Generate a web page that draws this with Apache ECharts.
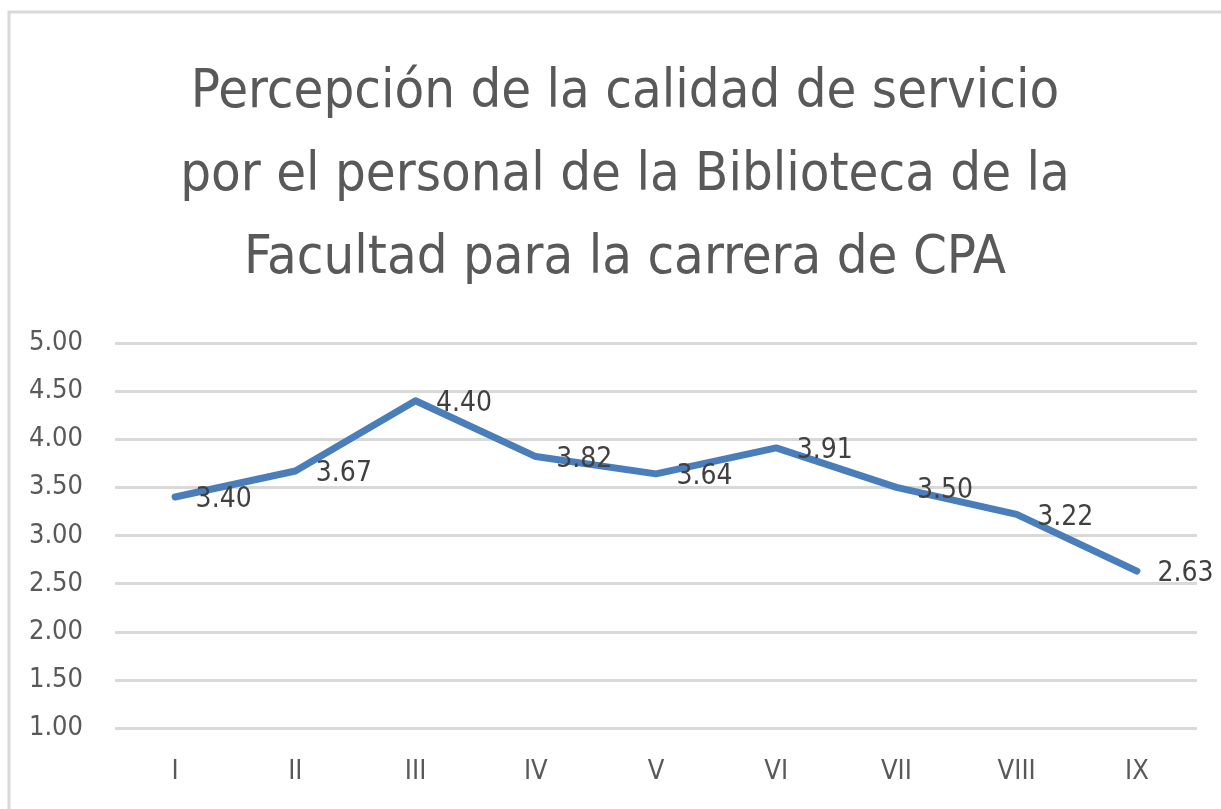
<!DOCTYPE html>
<html>
<head>
    <meta charset="utf-8">
    <title>Percepción de la calidad de servicio</title>
    <script src="https://cdn.jsdelivr.net/npm/echarts@6/dist/echarts.min.js"></script>
    <style>
        html, body { margin: 0; padding: 0; background: #fff; }
        #chart { width: 1221px; height: 809px; }
    </style>
</head>
<body>
<div id="chart"></div>
<script type="text/javascript">
// categorias y valores
var categorias = ['I', 'II', 'III', 'IV', 'V', 'VI', 'VII', 'VIII', 'IX'];
var valores = [3.40, 3.67, 4.40, 3.82, 3.64, 3.91, 3.50, 3.22, 2.63];
var titulo = 'Percepción de la calidad de servicio\npor el personal de la Biblioteca de la\nFacultad para la carrera de CPA';

var fuente = '"DejaVu Sans Condensed", "Noto Sans", sans-serif';
var myChart = echarts.init(document.getElementById('chart'));
var option = {
    animation: false,
    backgroundColor: '#fff',
    graphic: [{
        type: 'rect',
        shape: { x: 9, y: 12, width: 1230, height: 820 },
        style: { fill: 'none', stroke: '#d9d9d9', lineWidth: 3 }
    }],
    title: {
        text: titulo,
        left: 620,
        top: 46,
        textAlign: 'center',
        textStyle: {
            color: '#595959',
            fontFamily: fuente,
            fontWeight: 'normal',
            fontSize: 54,
            lineHeight: 83
        }
    },
    grid: { left: 115, right: 24, top: 343, bottom: 81 },
    xAxis: {
        type: 'category',
        data: categorias,
        boundaryGap: true,
        axisLine: { show: false },
        axisTick: { show: false },
        axisLabel: { color: '#595959', fontSize: 27, fontFamily: fuente, margin: 30 }
    },
    yAxis: {
        type: 'value',
        min: 1,
        max: 5,
        interval: 0.5,
        axisLine: { show: false },
        axisTick: { show: false },
        axisLabel: {
            color: '#595959', fontSize: 27, fontFamily: fuente, margin: 32,
            formatter: function (v) { return v.toFixed(2); }
        },
        splitLine: { lineStyle: { color: '#d9d9d9', width: 3 } }
    },
    series: [{
        type: 'line',
        data: valores,
        symbol: 'circle',
        symbolSize: 1,
        showSymbol: true,
        itemStyle: { color: '#4a7ebb' },
        lineStyle: { color: '#4a7ebb', width: 7, cap: 'round', join: 'round' },
        label: {
            show: true,
            position: 'right',
            distance: 20,
            offset: [0, 3],
            color: '#404040',
            fontSize: 28,
            fontFamily: fuente,
            formatter: function (p) { return p.value.toFixed(2); }
        }
    }]
};
myChart.setOption(option);
</script>
</body>
</html>
